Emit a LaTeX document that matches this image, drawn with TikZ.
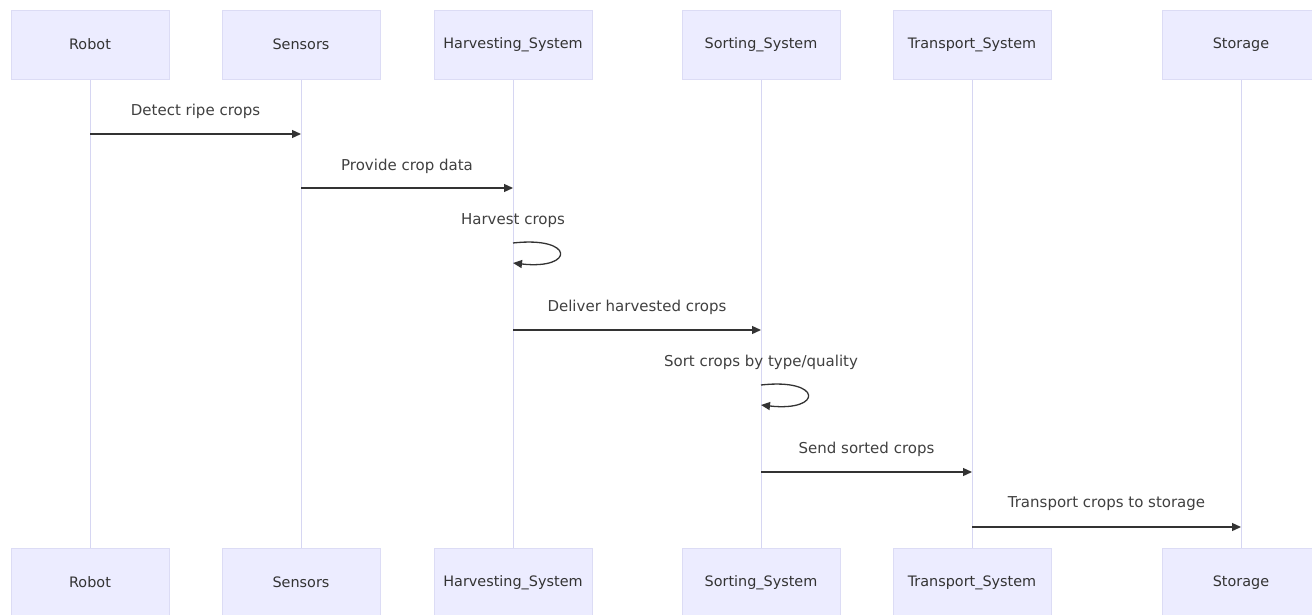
\documentclass[tikz,border=0pt]{standalone}
\usepackage{fontspec}
\setmainfont{DejaVu Sans}
\usetikzlibrary{arrows.meta}
\definecolor{actfill}{HTML}{ECECFF}
\definecolor{actdraw}{HTML}{DCDCF5}
\definecolor{lifeln}{HTML}{D6D6F2}
\definecolor{msgcol}{HTML}{333333}
\begin{document}
\begin{tikzpicture}[x=1pt,y=-1pt,
  actor/.style={draw=actdraw,fill=actfill,line width=0.8pt,minimum width=158pt,minimum height=69pt,inner sep=0pt,font=\fontsize{14.4}{16}\selectfont,text=black!80},
  life/.style={draw=lifeln,line width=1pt},
  msg/.style={draw=msgcol,line width=1.3pt,-{Triangle[length=9pt,width=8pt]}},
  lbl/.style={font=\fontsize{15}{17}\selectfont,text=black!75,inner sep=0pt}]
\useasboundingbox (0,0) rectangle (1312,615);
\fill[white] (0,0) rectangle (1312,615);
% lifelines
\foreach \n/\x in {r/90,s/301,h/513,so/761,t/972,st/1241}{
  \coordinate (\n t) at (\x,80);
  \coordinate (\n b) at (\x,548);
  \draw[life] (\n t) -- (\n b);
}
% actors top
\node[actor] (Rt) at (90,44.5) {Robot};
\node[actor] (St) at (301,44.5) {Sensors};
\node[actor] (Ht) at (513,44.5) {Harvesting\_System};
\node[actor] (SOt) at (761,44.5) {Sorting\_System};
\node[actor] (Tt) at (972,44.5) {Transport\_System};
\node[actor] (STt) at (1241,44.5) {Storage};
% actors bottom
\node[actor] (Rb) at (90,582.5) {Robot};
\node[actor] (Sb) at (301,582.5) {Sensors};
\node[actor] (Hb) at (513,582.5) {Harvesting\_System};
\node[actor] (SOb) at (761,582.5) {Sorting\_System};
\node[actor] (Tb) at (972,582.5) {Transport\_System};
\node[actor] (STb) at (1241,582.5) {Storage};
% message endpoints
\coordinate (m1a) at (90,134);  \coordinate (m1b) at (301,134);
\coordinate (m2a) at (301,188); \coordinate (m2b) at (513,188);
\coordinate (m3a) at (513,243); \coordinate (m3b) at (513,263);
\coordinate (m4a) at (513,330); \coordinate (m4b) at (761,330);
\coordinate (m5a) at (761,385); \coordinate (m5b) at (761,405);
\coordinate (m6a) at (761,472); \coordinate (m6b) at (972,472);
\coordinate (m7a) at (972,527); \coordinate (m7b) at (1241,527);
\draw[msg] (m1a) -- (m1b);
\draw[msg] (m2a) -- (m2b);
\draw[msg] (m3a) .. controls (575,236) and (575,270) .. (m3b);
\draw[msg] (m4a) -- (m4b);
\draw[msg] (m5a) .. controls (823,378) and (823,412) .. (m5b);
\draw[msg] (m6a) -- (m6b);
\draw[msg] (m7a) -- (m7b);
% labels
\node[lbl] (l1) at (195.5,111) {Detect ripe crops};
\node[lbl] (l2) at (407,166) {Provide crop data};
\node[lbl] (l3) at (513,221) {Harvest crops};
\node[lbl] (l4) at (637,307) {Deliver harvested crops};
\node[lbl] (l5) at (761,362) {Sort crops by type/quality};
\node[lbl] (l6) at (866.5,449) {Send sorted crops};
\node[lbl] (l7) at (1106.5,504) {Transport crops to storage};
\end{tikzpicture}
\end{document}
